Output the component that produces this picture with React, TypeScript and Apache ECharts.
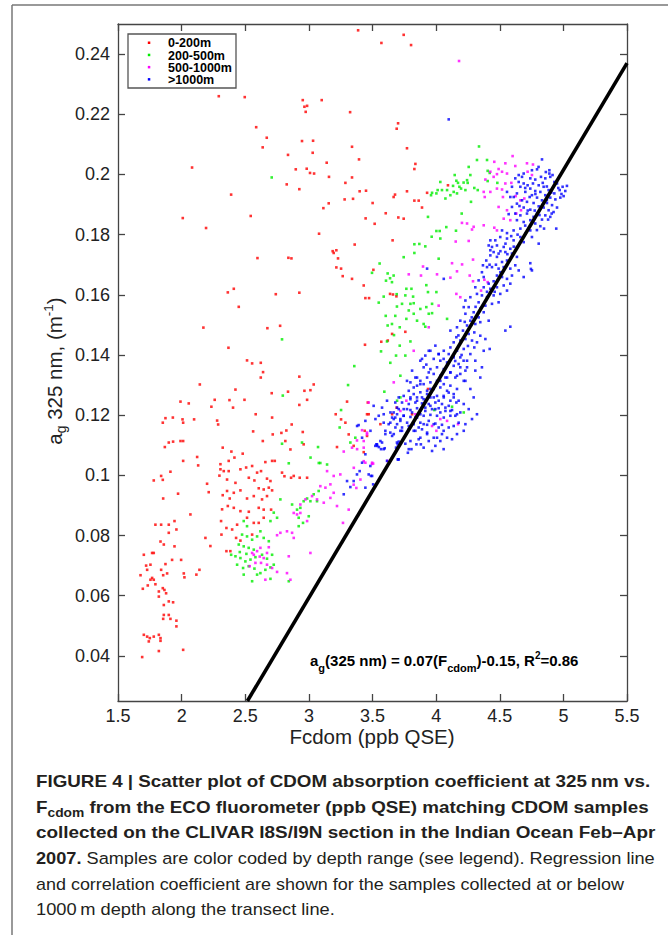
import React, { useEffect, useRef } from "react";
import * as echarts from "echarts";

const FONT = "'Liberation Sans', Arial, Helvetica, sans-serif";

const xTicks = [1.5, 2, 2.5, 3, 3.5, 4, 4.5, 5, 5.5];
const yTicks = [0.04, 0.06, 0.08, 0.1, 0.12, 0.14, 0.16, 0.18, 0.2, 0.22, 0.24];
const legendLabels = ["0-200m", "200-500m", "500-1000m", ">1000m"];
const seriesColors = ["#ff0000", "#00ee00", "#ff00ff", "#0000ff"];

const regressionFcdom = [2.517, 5.5];
const regressionAg = [0.025, 0.237];

const red0to200 = [
  [3.387,0.2479],[3.745,0.2464],[3.570,0.2437],[3.803,0.2430],[2.292,0.2260],[2.496,0.2257],[2.952,0.2247],[3.101,0.2247],[2.965,0.2225],[2.986,0.2228],[2.975,0.2208],[3.324,0.2207],[2.586,0.2157],[3.701,0.2170],[3.690,0.2152],
  [2.669,0.2122],[2.637,0.2090],[2.946,0.2111],[3.033,0.2112],[3.030,0.2072],[2.836,0.2065],[3.140,0.2039],[3.339,0.2092],[3.394,0.2050],[2.082,0.2023],[2.897,0.2017],[2.983,0.2019],[3.009,0.2005],[3.041,0.2003],[3.158,0.1992],[2.826,0.1967],[2.925,0.1951],[3.287,0.1972],[3.339,0.1990],[3.399,0.1944],[3.449,0.1946],[3.281,0.1917],[3.347,0.1919],[3.501,0.1905],[3.677,0.1933],[3.666,0.1925],[2.389,0.1933],[2.009,0.1855],[2.192,0.1822],[2.543,0.1862],[3.114,0.1888],[3.156,0.1904],[3.446,0.1854],[3.517,0.1836],[3.604,0.1871],[3.080,0.1803],[3.360,0.1767],[3.658,0.1781],[2.596,0.1722],[2.839,0.1723],[2.863,0.1721],[3.187,0.1745],[3.195,0.1739],[3.216,0.1748],[3.229,0.1721],[3.216,0.1691],[3.253,0.1687],[3.266,0.1662],[3.339,0.1653],[3.431,0.1631],[3.444,0.1589],[3.473,0.1589],[3.507,0.1683],[2.363,0.1608],[2.410,0.1620],[2.740,0.1602],[2.925,0.1607],[2.449,0.1560],[2.171,0.1491],[2.674,0.1489],[2.774,0.1497],[2.368,0.1424],[2.514,0.1382],[2.554,0.1372],[2.622,0.1374],[2.640,0.1343],[2.622,0.1325],[2.925,0.1328],[2.143,0.1302],[2.423,0.1285],[2.708,0.1273],[2.836,0.1278],[2.965,0.1281],[3.012,0.1283],[3.038,0.1302],[2.260,0.1251],[2.376,0.1250],[2.494,0.1251],[2.986,0.1251],[3.661,0.1601],[3.638,0.1603],[3.703,0.1857],[3.441,0.1434],[3.569,0.1444],
  [3.771,0.2087],[3.837,0.2035],[3.829,0.2018],[3.771,0.1944],[3.929,0.1939],[3.829,0.1913],[3.863,0.1913],[3.889,0.1890],[4.093,0.1964],[3.745,0.1853],[3.688,0.1595],[3.654,0.1470],[3.758,0.1477],[3.620,0.1448],[3.936,0.1287],[3.690,0.1225],[3.654,0.1203],[3.463,0.1242],[3.470,0.1203],[3.562,0.1170],[3.439,0.1148],[3.457,0.1131],[3.811,0.1203],
  [1.991,0.1245],[2.056,0.1239],[2.234,0.1228],[2.404,0.1225],[2.925,0.1234],[3.300,0.1245],[1.852,0.1175],[1.873,0.1190],[1.931,0.1192],[2.007,0.1186],[2.012,0.1175],[2.098,0.1186],[2.279,0.1182],[2.287,0.1169],[2.582,0.1203],[2.711,0.1192],[1.868,0.1094],[1.899,0.1109],[1.933,0.1112],[1.991,0.1114],[2.012,0.1114],[1.912,0.1012],[2.012,0.1048],[2.122,0.1061],[2.130,0.1033],[2.200,0.0972],[2.213,0.0944],[2.323,0.1092],[2.391,0.1079],[2.415,0.1059],[2.480,0.1072],[2.562,0.1146],[2.638,0.1114],[2.716,0.1136],[2.784,0.1141],[2.865,0.1169],[2.823,0.1149],[2.732,0.1048],[2.808,0.0997],[2.860,0.0992],[2.928,0.0992],[2.952,0.1144],[3.221,0.1094],[3.211,0.1203],[3.253,0.1186],[3.457,0.1203],[2.305,0.1020],[2.331,0.1014],[2.297,0.0999],[2.357,0.0986],[2.423,0.0975],[2.357,0.0948],[2.323,0.0934],[2.378,0.0923],[2.410,0.0942],[2.462,0.0950],[2.514,0.0923],[2.567,0.0931],[2.606,0.0957],[2.645,0.0953],[2.685,0.0959],[2.711,0.0950],[2.632,0.0920],[2.671,0.0931],[2.318,0.0887],[2.363,0.0898],[2.410,0.0892],[2.462,0.0881],[2.528,0.0879],[2.606,0.0892],[2.645,0.0886],[2.703,0.0886],[2.310,0.0848],[2.352,0.0825],[2.397,0.0820],[2.436,0.0836],[2.514,0.0859],[2.554,0.0803],[2.567,0.0842],[2.606,0.0842],[2.645,0.0859],[2.313,0.0803],[2.352,0.0748],[2.383,0.0748],[2.428,0.0792],[2.462,0.0783],[2.305,0.1037],[2.370,0.1048],[2.370,0.1014],[2.462,0.1020],[2.507,0.1026],[2.554,0.1031],[2.593,0.1009],[2.624,0.1014],[2.658,0.1044],[2.711,0.1048],[2.528,0.0992],[2.572,0.0983],[2.671,0.0989],[2.698,0.0981],[2.789,0.1009],[2.881,0.0998],[2.986,0.0992],[2.815,0.1114],[2.855,0.1086],[2.959,0.1103],[3.287,0.1175],[3.313,0.1136],[3.431,0.1077],[3.352,0.1098],
  [1.781,0.0983],[1.839,0.0998],[1.852,0.0985],[1.972,0.0939],[2.069,0.0870],[1.794,0.0836],[1.839,0.0836],[1.899,0.0836],[1.944,0.0848],[1.959,0.0820],[1.834,0.0780],[1.860,0.0770],[1.768,0.0742],[1.781,0.0742],[1.703,0.0736],[1.944,0.0764],[1.996,0.0719],[1.925,0.0719],[1.873,0.0705],[1.755,0.0703],[1.721,0.0700],[1.729,0.0686],[1.677,0.0668],[1.695,0.0623],[1.734,0.0634],[1.755,0.0653],[1.768,0.0659],[1.781,0.0653],[1.839,0.0686],[1.855,0.0668],[1.886,0.0674],[1.794,0.0638],[1.852,0.0625],[1.865,0.0619],[1.821,0.0614],[1.878,0.0608],[1.821,0.0597],[1.899,0.0581],[1.933,0.0578],[1.860,0.0569],[1.860,0.0536],[1.899,0.0536],[1.855,0.0523],[1.912,0.0523],[1.959,0.0517],[1.959,0.0498],[1.703,0.0470],[1.729,0.0464],[1.750,0.0459],[1.742,0.0448],[1.781,0.0464],[1.821,0.0470],[1.834,0.0459],[1.834,0.0450],[1.821,0.0416],[1.690,0.0396],[2.012,0.0420],[2.017,0.0674],[2.022,0.0661],[2.116,0.0670],[2.140,0.0686],[2.187,0.0792],[2.226,0.0765],[1.855,0.0923],[1.899,0.0809]
];

const green200to500 = [
  [2.708,0.1990],[3.556,0.1704],[3.496,0.1673],[3.619,0.1671],[3.666,0.1664],[3.638,0.1655],[3.606,0.1647],[3.653,0.1642],[3.588,0.1594],[3.690,0.1602],[3.549,0.1574],[3.692,0.1561],[3.604,0.1530],[3.679,0.1530],[3.653,0.1503],[3.619,0.1498],[3.669,0.1466],[3.614,0.1445],[3.685,0.1398],[3.640,0.1374],[3.567,0.1412],[3.357,0.1363],[3.308,0.1300],[2.789,0.1452],[2.795,0.1265],[3.593,0.1278],
  [4.337,0.2093],[4.321,0.2048],[4.400,0.2048],[4.256,0.2025],[4.405,0.2012],[4.421,0.2005],[4.146,0.1998],[4.269,0.1998],[4.243,0.1981],[4.159,0.1979],[4.172,0.1972],[4.183,0.1959],[4.133,0.1962],[4.216,0.1973],[4.248,0.1972],[4.300,0.1955],[4.327,0.1948],[4.033,0.1975],[4.012,0.1948],[4.046,0.1948],[4.086,0.1948],[4.138,0.1942],[4.164,0.1937],[4.112,0.1931],[4.073,0.1920],[3.968,0.1939],[3.960,0.1931],[4.002,0.1937],[4.230,0.1948],[4.274,0.1909],[4.405,0.1978],[4.196,0.1953],[4.481,0.1972],[4.201,0.1870],[3.936,0.1859],[4.080,0.1825],[4.002,0.1812],[4.028,0.1812],[3.965,0.1793],[4.033,0.1787],[4.156,0.1813],[3.829,0.1768],[3.868,0.1769],[3.915,0.1761],[3.829,0.1739],[3.745,0.1725],[4.020,0.1720],[3.766,0.1620],[3.806,0.1620],[3.819,0.1594],[3.758,0.1598],[3.923,0.1632],[3.936,0.1609],[4.002,0.1609],[3.732,0.1570],[3.798,0.1570],[3.824,0.1572],[3.785,0.1548],[3.824,0.1537],[3.876,0.1553],[3.923,0.1559],[3.968,0.1570],[3.942,0.1537],[3.968,0.1539],[3.766,0.1520],[3.850,0.1514],[3.902,0.1503],[3.915,0.1494],[4.086,0.1520],[3.714,0.1492],[3.798,0.1445],[3.714,0.1431],[3.719,0.1331],[3.758,0.1398],[3.693,0.1248],[3.719,0.1259],[4.217,0.1209],[3.986,0.1217],[4.125,0.1228],
  [3.253,0.1217],[2.789,0.1105],[2.842,0.1040],[2.946,0.1109],[3.072,0.1094],[3.013,0.1059],[3.078,0.1041],[3.090,0.1041],[3.143,0.1036],[3.242,0.1159],[3.365,0.1125],[3.326,0.1109],[2.776,0.0920],[2.868,0.0903],[2.907,0.0886],[2.933,0.0892],[2.959,0.0914],[2.986,0.0923],[3.012,0.0914],[3.038,0.0937],[3.064,0.0914],[3.077,0.0948],[2.920,0.0859],[2.954,0.0842],[2.999,0.0864],[2.920,0.0831],[2.724,0.0876],[2.750,0.0859],[2.698,0.0848],[2.488,0.0848],[2.514,0.0831],[2.475,0.0803],[2.514,0.0797],[2.554,0.0786],[2.593,0.0797],[2.619,0.0814],[2.645,0.0792],[2.685,0.0781],[2.449,0.0770],[2.488,0.0764],[2.527,0.0759],[2.389,0.0736],[2.423,0.0731],[2.462,0.0725],[2.501,0.0714],[2.541,0.0720],[2.580,0.0728],[2.632,0.0736],[2.671,0.0723],[2.711,0.0736],[2.436,0.0703],[2.483,0.0692],[2.527,0.0698],[2.572,0.0690],[2.619,0.0675],[2.658,0.0686],[2.698,0.0694],[2.724,0.0703],[2.488,0.0670],[2.554,0.0648],[2.593,0.0670],[2.698,0.0656],[2.842,0.0648],[2.457,0.0745],[2.567,0.0753],[2.509,0.0739]
];

const magenta500to1000 = [
  [4.180,0.2377],
  [4.601,0.2061],[4.457,0.2042],[4.544,0.2037],[4.491,0.2018],[4.518,0.2009],[4.557,0.2003],[4.426,0.2009],[4.387,0.1983],[4.452,0.1992],[4.478,0.2001],[4.622,0.2028],[4.714,0.2037],[4.719,0.2009],[4.753,0.1998],[4.761,0.2033],[4.544,0.1970],[4.591,0.1972],[4.518,0.1950],[4.478,0.1953],[4.426,0.1942],[4.382,0.1925],[4.374,0.1942],[4.525,0.1925],[4.491,0.1892],[4.531,0.1853],[4.557,0.1881],[4.630,0.1870],[4.667,0.1881],[4.583,0.1848],[4.625,0.1928],[4.693,0.1920],[4.662,0.1914],[4.203,0.1839],[4.243,0.1837],[4.282,0.1817],[4.295,0.1826],[4.154,0.1777],[4.256,0.1779],[4.374,0.1831],[4.457,0.1823],[4.478,0.1814],[4.290,0.1717],[4.125,0.1705],[4.204,0.1701],[3.897,0.1694],[4.164,0.1678],[4.007,0.1668],[3.881,0.1664],[3.785,0.1668],[4.112,0.1657],[4.264,0.1664],[4.290,0.1645],[4.379,0.1650],[4.405,0.1642],[4.353,0.1614],[4.190,0.1592],[4.159,0.1603],[4.020,0.1564],[3.942,0.1492],[3.824,0.1414],[3.667,0.1309],[3.766,0.1248],[3.837,0.1203],[3.968,0.1164],[4.086,0.1181],[4.172,0.1170],[4.002,0.1148],[4.033,0.1187],[3.719,0.1214],[3.457,0.1142],[3.431,0.1092],[3.379,0.1087],[3.497,0.1042],[3.444,0.1042],[3.353,0.1025],[3.505,0.1039],[3.617,0.1048],
  [3.470,0.1242],[3.418,0.1150],[3.378,0.1116],[3.431,0.1114],[3.457,0.1136],[3.339,0.1092],[3.274,0.1079],[3.431,0.1047],[3.496,0.1038],[3.405,0.0986],[3.352,0.0969],[3.373,0.0958],[3.143,0.1014],[3.195,0.0998],[3.247,0.1003],[3.169,0.0970],[3.130,0.0959],[3.090,0.0964],[3.195,0.0942],[3.169,0.0925],[3.117,0.0909],[3.064,0.0920],[3.025,0.0931],[2.973,0.0920],[2.933,0.0903],[2.881,0.0875],[2.907,0.0870],[2.933,0.0875],[2.986,0.0848],[2.828,0.0814],[2.868,0.0809],[2.776,0.0809],[2.881,0.0792],[3.012,0.0742],[3.268,0.0842],[3.313,0.0886],[3.221,0.0898],[2.842,0.0731],[2.828,0.0675],[2.855,0.0653],[2.750,0.0679],[2.658,0.0653],[2.593,0.0748],[2.614,0.0730],[2.645,0.0725],[2.671,0.0742],[2.554,0.0742],[2.671,0.0703],[2.624,0.0709],[2.580,0.0709],[2.535,0.0698],[2.711,0.0692],[2.619,0.0759],[2.567,0.0736],[2.750,0.0801],[2.685,0.0761]
];

const blueBelow1000 = [
  [4.099,0.2183],
  [4.832,0.2050],[4.890,0.2014],[4.890,0.2003],[4.793,0.2017],[4.753,0.2014],[4.688,0.2003],[4.649,0.1998],[4.675,0.1992],[4.740,0.1987],[4.779,0.1983],[4.824,0.1992],[4.858,0.1987],[4.897,0.1992],[4.929,0.1975],[4.950,0.1970],[4.994,0.1959],[5.028,0.1962],[4.971,0.1948],[5.002,0.1928],[4.929,0.1937],[4.884,0.1948],[4.845,0.1959],[4.806,0.1964],[4.761,0.1970],[4.719,0.1964],[4.688,0.1970],[4.649,0.1975],[4.622,0.1987],[4.662,0.1959],[4.740,0.1953],[4.779,0.1945],[4.819,0.1942],[4.858,0.1931],[4.897,0.1923],[4.937,0.1917],[4.976,0.1923],[4.753,0.1931],[4.793,0.1923],[4.832,0.1914],[4.871,0.1905],[4.911,0.1898],[4.950,0.1890],[4.884,0.1881],[4.845,0.1890],[4.806,0.1894],[4.766,0.1905],[4.714,0.1909],[4.675,0.1914],[4.635,0.1903],[4.596,0.1892],[4.688,0.1890],[4.740,0.1883],[4.793,0.1870],[4.858,0.1864],[4.897,0.1859],[4.923,0.1875],[4.944,0.1820],[4.832,0.1850],[4.766,0.1859],[4.714,0.1870],[4.662,0.1864],[4.622,0.1870],[4.570,0.1868],[4.635,0.1848],[4.688,0.1842],[4.740,0.1848],[4.779,0.1837],[4.819,0.1828],[4.740,0.1814],[4.701,0.1803],[4.662,0.1820],[4.609,0.1814],[4.557,0.1805],[4.518,0.1814],[4.504,0.1792],[4.557,0.1787],[4.609,0.1781],[4.662,0.1792],[4.688,0.1775],[4.753,0.1792],[4.806,0.1770],[4.635,0.1759],[4.583,0.1753],[4.531,0.1759],[4.478,0.1764],[4.439,0.1759],[4.413,0.1764],[4.452,0.1742],[4.491,0.1737],[4.544,0.1742],[4.596,0.1737],[4.635,0.1726],[4.557,0.1714],[4.518,0.1709],[4.478,0.1726],[4.426,0.1731],[4.394,0.1714],[4.439,0.1692],[4.491,0.1687],[4.531,0.1692],[4.583,0.1687],[4.622,0.1698],[4.649,0.1681],[4.740,0.1705],[4.753,0.1681],[4.688,0.1659],[4.596,0.1664],[4.557,0.1653],[4.518,0.1659],[4.478,0.1664],[4.452,0.1645],[4.413,0.1637],[4.374,0.1625],[4.426,0.1620],[4.478,0.1625],[4.531,0.1631],[4.583,0.1637],[4.557,0.1614],[4.504,0.1603],[4.452,0.1598],[4.400,0.1592],[4.360,0.1598],[4.321,0.1603],[4.334,0.1575],[4.387,0.1564],[4.439,0.1570],[4.491,0.1575],[4.374,0.1542],[4.334,0.1525],[4.295,0.1542],[4.256,0.1559],[4.230,0.1537],[4.269,0.1514],[4.308,0.1503],[4.347,0.1509],[4.413,0.1514],[4.243,0.1498],[4.211,0.1481],[4.256,0.1470],[4.300,0.1475],[4.347,0.1464],[4.387,0.1453],[4.421,0.1420],[4.374,0.1414],[4.321,0.1442],[4.282,0.1448],[4.230,0.1453],[4.190,0.1448],[4.159,0.1459],[4.138,0.1442],[4.112,0.1425],[4.164,0.1414],[4.217,0.1420],[4.269,0.1403],[4.308,0.1381],[4.360,0.1359],[4.243,0.1381],[4.190,0.1392],[4.138,0.1398],[4.099,0.1403],[4.060,0.1414],[4.020,0.1403],[3.981,0.1387],[4.033,0.1381],[4.086,0.1375],[4.138,0.1364],[4.190,0.1359],[4.230,0.1348],[3.942,0.1414],[3.889,0.1387],[3.923,0.1368],[3.955,0.1353],[4.007,0.1359],[4.060,0.1353],[4.112,0.1342],[4.164,0.1331],[4.217,0.1314],[4.086,0.1325],[4.033,0.1331],[3.981,0.1337],[3.929,0.1325],[3.876,0.1314],[3.837,0.1325],[3.798,0.1309],[3.850,0.1298],[3.902,0.1303],[3.955,0.1309],[4.007,0.1314],[4.060,0.1303],[4.112,0.1298],[4.164,0.1287],[4.138,0.1270],[4.086,0.1281],[4.033,0.1292],[3.981,0.1287],[3.929,0.1281],[3.876,0.1276],[3.824,0.1270],[3.785,0.1281],[3.745,0.1264],[3.798,0.1253],[3.850,0.1259],[3.902,0.1253],[3.955,0.1259],[4.007,0.1264],[4.060,0.1259],[4.112,0.1248],[4.159,0.1242],[4.099,0.1231],[4.046,0.1237],[3.994,0.1242],[3.942,0.1237],[3.889,0.1239],[3.837,0.1242],[3.785,0.1237],[3.732,0.1242],[3.693,0.1225],[3.745,0.1220],[3.798,0.1217],[3.850,0.1223],[3.915,0.1225],[3.968,0.1220],[4.020,0.1223],[4.073,0.1214],[4.125,0.1217],[4.164,0.1203],[4.112,0.1198],[4.060,0.1192],[4.007,0.1198],[3.955,0.1201],[3.902,0.1198],[3.850,0.1192],[3.798,0.1194],[3.745,0.1198],[3.693,0.1203],[3.641,0.1209],[3.588,0.1203],[3.549,0.1198],[3.667,0.1187],[3.719,0.1181],[3.772,0.1175],[3.824,0.1170],[3.876,0.1175],[3.929,0.1168],[3.994,0.1172],[4.046,0.1168],[3.889,0.1153],[3.837,0.1148],[3.785,0.1153],[3.732,0.1148],[3.680,0.1159],[3.627,0.1170],[3.588,0.1175],[4.007,0.1125],[3.929,0.1142],[3.863,0.1120],[3.798,0.1114],[3.758,0.1105],[3.706,0.1112],[3.654,0.1131],[3.601,0.1137],[3.562,0.1114],[3.531,0.1103],[3.567,0.1087],[3.785,0.1087],[3.706,0.1053],[3.379,0.1164],[3.418,0.1125],[3.484,0.1148],[3.523,0.1187],[3.444,0.1070],[3.929,0.1687],[4.060,0.1653],[4.112,0.1481],[4.164,0.1492],[4.190,0.1514],[4.217,0.1559],[4.230,0.1581],[4.269,0.1592],[4.308,0.1625],[4.334,0.1648],[4.360,0.1675],[4.400,0.1692],[4.374,0.1659],[4.368,0.1698],[4.426,0.1748],[4.465,0.1781],[4.426,0.1781],[4.583,0.1925],[4.557,0.1942],[4.596,0.1959],[4.635,0.1937],[4.701,0.1942],[4.544,0.1481],[4.583,0.1494],[4.745,0.1686],
  [3.391,0.1167],[3.399,0.1014],[3.444,0.1181],[3.535,0.1103],[3.575,0.1109],[3.601,0.1148],[3.588,0.1087],[3.522,0.1098],[3.692,0.1109],[3.640,0.1175],[3.679,0.1192],[3.352,0.0981],[3.300,0.0981],[3.274,0.0937],[3.326,0.0961],[3.378,0.1003],[3.444,0.0959],[3.418,0.1042],[3.483,0.1031],[3.470,0.1003],[3.488,0.0998],[3.698,0.1053],[3.614,0.1048],[3.640,0.1142],[3.575,0.1225],[3.509,0.1231],[3.614,0.1248],[3.666,0.1209],[3.706,0.1259],[3.679,0.1242],
  [3.497,0.0998],[3.505,0.0970],[3.537,0.1098],[3.550,0.1094],[3.596,0.1090],[3.698,0.1103],[3.685,0.1092],[3.703,0.1053],[3.778,0.1075],[3.806,0.1087],[3.845,0.1103],[3.880,0.1103],
  [3.876,0.1381],[3.915,0.1398],[3.955,0.1414],[3.994,0.1431],[4.020,0.1403],[4.059,0.1387],[4.099,0.1375],[4.138,0.1392],[4.177,0.1370],[4.216,0.1381],[4.243,0.1359],[4.190,0.1337],[4.151,0.1325],[4.112,0.1342],[4.073,0.1325],[4.033,0.1314],[3.994,0.1298],[3.955,0.1287],[3.929,0.1270],[3.981,0.1259],[4.020,0.1248],[4.059,0.1264],[4.099,0.1275],[4.138,0.1259],[4.177,0.1248],[4.217,0.1237],[4.256,0.1220],[4.190,0.1209],[4.151,0.1198],[4.112,0.1214],[4.073,0.1225],[4.033,0.1209],[3.994,0.1220],[3.955,0.1231],[3.915,0.1214],[3.876,0.1203],[3.837,0.1192],[3.811,0.1209],[3.771,0.1220],[3.745,0.1198],[3.719,0.1187],[3.693,0.1170],[3.732,0.1159],[3.785,0.1164],[3.824,0.1148],[3.863,0.1159],[3.902,0.1170],[3.942,0.1181],[3.981,0.1170],[4.020,0.1159],[4.059,0.1148],[4.099,0.1159],[4.138,0.1164],[4.177,0.1175],[4.086,0.1125],[4.033,0.1114],[3.981,0.1125],[3.929,0.1137],[3.876,0.1125],[3.994,0.1098],
  [3.902,0.1359],[3.942,0.1342],[3.850,0.1325],[3.811,0.1348],[3.771,0.1314],[3.824,0.1292],[3.876,0.1303],[3.889,0.1259],[3.850,0.1248],[3.798,0.1259],[4.230,0.1314],[4.269,0.1287],[4.295,0.1259],[4.308,0.1348],[4.347,0.1325],[4.321,0.1203],[4.282,0.1187],[4.230,0.1170],[4.217,0.1148],[4.164,0.1137],[4.125,0.1120],[4.046,0.1137],[3.942,0.1114],[3.902,0.1092],[3.968,0.1081],[4.059,0.1087],[3.719,0.1148],[3.667,0.1137],[3.706,0.1220],[3.654,0.1192],
  [4.805,0.2025],[4.862,0.2008],[4.915,0.1998],[4.838,0.1972],[4.870,0.1960],[4.960,0.1955],[5.015,0.1945],[4.985,0.1935],[4.905,0.1940],[4.870,0.1915],[4.780,0.1935],[4.735,0.1925],[4.700,0.1955],[4.610,0.1925],[4.655,0.1895],[4.720,0.1880],[4.775,0.1880],[4.812,0.1865],[4.880,0.1850],[4.908,0.1870],[4.848,0.1820],[4.792,0.1815],[4.700,0.1830],[4.640,0.1800],[4.590,0.1795],[4.545,0.1770],[4.610,0.1760],[4.560,0.1735],[4.505,0.1745],[4.470,0.1700],[4.420,0.1700],[4.505,0.1675],[4.460,0.1610],[4.400,0.1610],[4.350,0.1555],[4.310,0.1560],[4.280,0.1525],[4.225,0.1510],[4.175,0.1465],[4.300,0.1425],[4.250,0.1430],[4.200,0.1400],[4.150,0.1380]
];

const seriesData = [red0to200, green200to500, magenta500to1000, blueBelow1000];

const captionLines = [
  "{b|FIGURE 4 | Scatter plot of CDOM absorption coefficient at 325\u2009nm vs.}",
  "{b|F}{bs|cdom}{b| from the ECO fluorometer (ppb QSE) matching CDOM samples}",
  "{b|collected on the CLIVAR I8S/I9N section in the Indian Ocean Feb\u2013Apr}",
  "{b|2007.}{r| Samples are color coded by depth range (see legend). Regression line}",
  "{r|and correlation coefficient are shown for the samples collected at or below}",
  "{r|1000\u2009m depth along the transect line.}",
];
const captionStretch = [1.105, 1.105, 1.113, 1.069, 1.056, 1.074];

export default function App() {
  const ref = useRef<HTMLDivElement>(null);
  useEffect(() => {
    if (!ref.current) return;
    const chart = echarts.init(ref.current, undefined, { renderer: "svg" });
    const axisColor = "#444";
    const txt = "#222";
    const mkX = (pos: "top" | "bottom", labels: boolean) => ({
      type: "value", min: 1.5, max: 5.5, interval: 0.5, position: pos,
      axisLine: { show: true, onZero: false, lineStyle: { color: axisColor, width: 1.3 } },
      axisTick: { show: true, inside: true, length: 7, lineStyle: { color: axisColor, width: 1.3 } },
      axisLabel: { show: labels, margin: 6, fontSize: 18, lineHeight: 18, color: txt, fontFamily: FONT, showMinLabel: true, showMaxLabel: true },
      splitLine: { show: false },
    });
    const mkY = (pos: "left" | "right", labels: boolean) => ({
      type: "value", min: 0.025, max: 0.25, position: pos,
      axisLine: { show: true, onZero: false, lineStyle: { color: axisColor, width: 1.3 } },
      axisTick: { show: true, inside: true, length: 7, customValues: yTicks, lineStyle: { color: axisColor, width: 1.3 } },
      axisLabel: { show: labels, margin: 8, fontSize: 18, color: txt, fontFamily: FONT, customValues: yTicks },
      splitLine: { show: false },
    });
    const legendRows = [43.3, 55.5, 67.7, 79.9];
    const graphic: any[] = [
      { type: "line", shape: { x1: 12, y1: 5, x2: 12, y2: 935 }, style: { stroke: "#777", lineWidth: 1.5 } },
      { type: "line", shape: { x1: 12, y1: 5, x2: 668, y2: 5 }, style: { stroke: "#777", lineWidth: 1.5 } },
      { type: "rect", shape: { x: 128, y: 34, width: 108, height: 54 }, style: { fill: "#fff", stroke: "#555", lineWidth: 1.3 }, z: 10 },
    ];
    legendLabels.forEach((lab, i) => {
      graphic.push({ type: "rect", shape: { x: 147.8, y: legendRows[i] - 1.8, width: 2.5, height: 2.5 }, style: { fill: seriesColors[i] }, z: 11 });
      graphic.push({ type: "text", x: 168, y: legendRows[i], z: 11, style: { text: lab, fill: "#000", fontFamily: FONT, fontSize: 12.5, fontWeight: "bold", align: "left", verticalAlign: "middle", textAlign: "left", textVerticalAlign: "middle" } });
    });
    graphic.push({
      type: "text", x: 372, y: 736, style: { text: "Fcdom (ppb QSE)", fill: txt, fontFamily: FONT, fontSize: 20.5, lineHeight: 20, align: "center", verticalAlign: "middle", textAlign: "center", textVerticalAlign: "middle" },
    });
    graphic.push({
      type: "text", x: 54, y: 371, rotation: Math.PI / 2,
      style: {
        text: "{n|a}{s|g}{n| 325 nm, (m}{p|-1}{n|)}", fill: txt, align: "center", verticalAlign: "middle", textAlign: "center", textVerticalAlign: "middle",
        rich: {
          n: { fontFamily: FONT, fontSize: 20.5, fill: txt },
          s: { fontFamily: FONT, fontSize: 14, fill: txt, padding: [14, 0, 0, 0] },
          p: { fontFamily: FONT, fontSize: 13.5, fill: txt, padding: [0, 0, 12, 0] },
        },
      },
    });
    graphic.push({
      type: "text", x: 310, y: 660, z: 12,
      style: {
        text: "{m|a}{s|g}{m|(325 nm) = 0.07(F}{s|cdom}{m|)-0.15, R}{p|2}{m|=0.86}", fill: "#000", align: "left", verticalAlign: "middle", textAlign: "left", textVerticalAlign: "middle",
        rich: {
          m: { fontFamily: FONT, fontSize: 15, fontWeight: "bold", fill: "#000" },
          s: { fontFamily: FONT, fontSize: 11, fontWeight: "bold", fill: "#000", padding: [16, 0, 0, 0] },
          p: { fontFamily: FONT, fontSize: 10, fontWeight: "bold", fill: "#000", padding: [0, 0, 10, 0] },
        },
      },
    });
    const capColor = "#231f20";
    captionLines.forEach((line, i) => {
      graphic.push({
        type: "text", x: 36, y: 781.5 + i * 25.6, scaleX: captionStretch[i], scaleY: 1,
        style: {
          text: line, fill: capColor, align: "left", verticalAlign: "middle", textAlign: "left", textVerticalAlign: "middle",
          rich: {
            b: { fontFamily: FONT, fontSize: 17, fontWeight: "bold", fill: capColor },
            bs: { fontFamily: FONT, fontSize: 12.5, fontWeight: "bold", fill: capColor, padding: [11, 0, 0, 0] },
            r: { fontFamily: FONT, fontSize: 17, fontWeight: "normal", fill: capColor },
          },
        },
      });
    });

    const scatterSeries = seriesData.map((d, i) => ({
      type: "scatter", name: legendLabels[i], data: d, symbol: "rect", symbolSize: 2.6,
      itemStyle: { color: seriesColors[i] }, silent: true, z: 2 + i,
    }));

    chart.setOption({
      animation: false,
      backgroundColor: "#fff",
      grid: { left: 118, top: 24, width: 509, height: 677, containLabel: false },
      xAxis: [mkX("bottom", true), mkX("top", false)],
      yAxis: [mkY("left", true), mkY("right", false)],
      series: [
        ...scatterSeries,
        {
          type: "line", name: "regression", data: regressionFcdom.map((x, i) => [x, regressionAg[i]]),
          showSymbol: false, symbol: "none", lineStyle: { color: "#000", width: 3.6 }, silent: true, z: 8,
        },
      ],
      graphic,
    } as any);
    return () => chart.dispose();
  }, []);
  return <div ref={ref} style={{ position: "absolute", left: 0, top: 0, width: 668, height: 935, background: "#fff" }} />;
}
